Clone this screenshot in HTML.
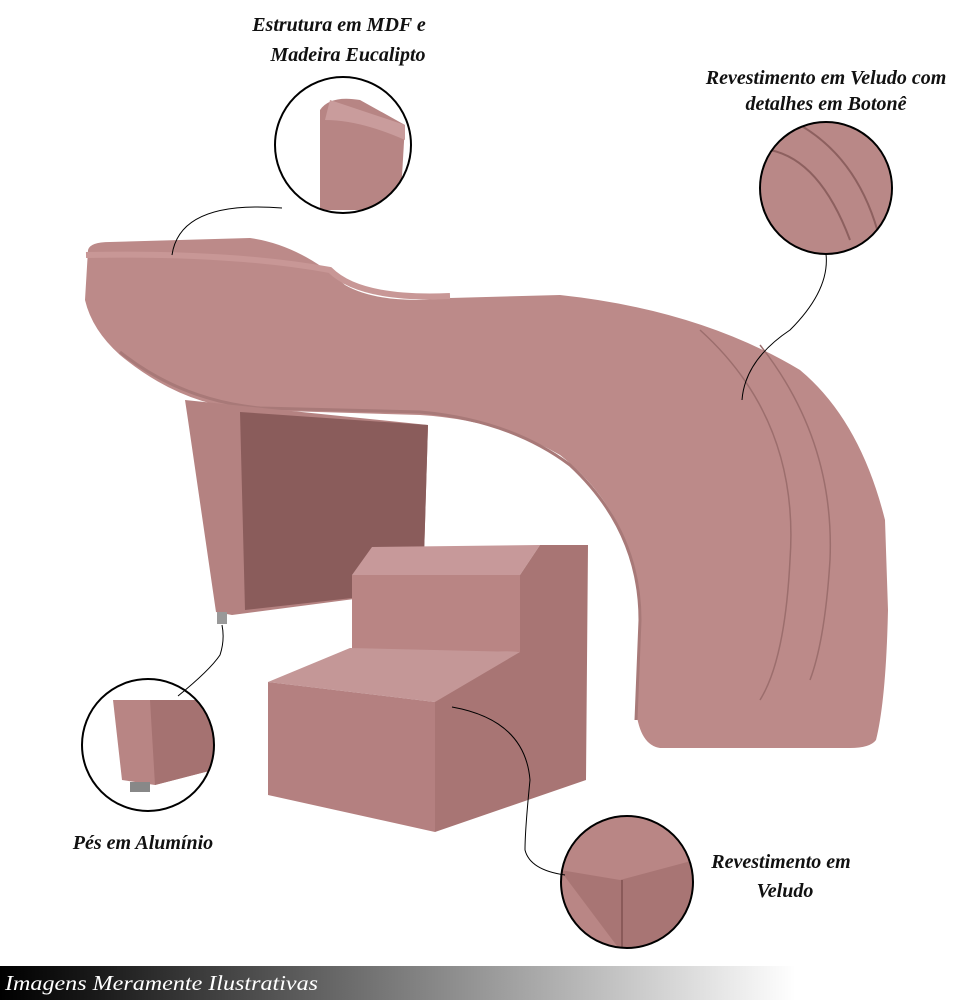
<!DOCTYPE html>
<html><head><meta charset="utf-8"><style>
html,body{margin:0;padding:0;background:#fff;}
body{width:970px;height:1000px;position:relative;overflow:hidden;}
svg{position:absolute;left:0;top:0;}
.t{font-family:"Liberation Serif",serif;font-weight:bold;font-style:italic;font-size:20px;fill:#111;}
</style></head><body>
<svg width="970" height="1000" viewBox="0 0 970 1000">
<defs>
<linearGradient id="bar" x1="0" x2="1" y1="0" y2="0">
<stop offset="0" stop-color="#000"/><stop offset="0.1" stop-color="#1a1a1a"/><stop offset="0.45" stop-color="#888"/><stop offset="0.82" stop-color="#fff"/><stop offset="1" stop-color="#fff"/>
</linearGradient>
<clipPath id="c1"><circle cx="343" cy="145" r="68"/></clipPath>
<clipPath id="c2"><circle cx="826" cy="188" r="66"/></clipPath>
<clipPath id="c3"><circle cx="148" cy="745" r="66"/></clipPath>
<clipPath id="c4"><circle cx="627" cy="882" r="66"/></clipPath>
</defs>
<!-- chaise body -->
<path d="M88,250 Q90,242 110,242 L250,238 Q300,245 345,285 Q380,305 450,298 L560,295 Q700,310 800,370 Q860,420 885,520 L888,610 Q886,700 876,740 Q870,748 850,748 L660,748 Q640,745 636,710 L640,600 Q630,510 560,455 Q500,420 420,415 L250,410 Q180,405 120,355 Q92,330 85,300 Z" fill="#bc8a89"/>
<path d="M120,352 Q180,400 260,408 L420,412 Q510,420 570,465 Q640,530 640,620 L636,720" fill="none" stroke="#a87978" stroke-width="3"/>
<path d="M86,255 Q230,252 330,270 Q360,300 450,296" fill="none" stroke="#c89796" stroke-width="6"/>
<!-- tufting lines -->
<path d="M700,330 Q800,420 790,560 Q785,660 760,700" fill="none" stroke="#9c6e6d" stroke-width="1.5"/>
<path d="M760,345 Q835,440 830,560 Q825,640 810,680" fill="none" stroke="#9c6e6d" stroke-width="1.5"/>
<!-- leg -->
<path d="M185,400 L428,425 L423,590 L232,615 L216,612 L188,420 Z" fill="#b48281"/>
<path d="M240,412 L428,425 L423,590 L245,610 Z" fill="#8a5c5b"/>
<rect x="217" y="612" width="10" height="12" fill="#999"/>
<!-- step -->
<path d="M352,575 L372,547 L540,545 L520,575 Z" fill="#c7999a"/>
<path d="M520,575 L540,545 L588,545 L586,780 L435,832 L435,700 L520,650 Z" fill="#a87574"/>
<path d="M352,575 L520,575 L520,652 L352,650 Z" fill="#b98584"/>
<path d="M268,682 L350,648 L520,652 L435,702 Z" fill="#c49797"/>
<path d="M268,682 L435,702 L435,832 L268,795 Z" fill="#b48080"/>
<!-- circles -->
<g clip-path="url(#c1)"><rect x="270" y="70" width="150" height="150" fill="#fff"/><path d="M320,110 Q330,95 360,100 L405,125 L400,210 L320,210 Z" fill="#b78584"/><path d="M330,100 L405,125 L405,140 Q360,120 325,120Z" fill="#c99c9c"/></g>
<circle cx="343" cy="145" r="68" fill="none" stroke="#000" stroke-width="2"/>
<g clip-path="url(#c2)"><rect x="755" y="118" width="145" height="145" fill="#b98887"/><path d="M770,150 Q820,160 850,240" fill="none" stroke="#8d605f" stroke-width="2"/><path d="M800,125 Q860,160 880,240" fill="none" stroke="#8d605f" stroke-width="2"/></g>
<circle cx="826" cy="188" r="66" fill="none" stroke="#000" stroke-width="2"/>
<g clip-path="url(#c3)"><rect x="80" y="675" width="140" height="140" fill="#fff"/><path d="M113,700 L215,700 L213,770 L155,785 L122,780 Z" fill="#b88584"/><path d="M150,700 L215,700 L213,770 L155,785 Z" fill="#a57271"/><rect x="130" y="782" width="20" height="10" fill="#888"/></g>
<circle cx="148" cy="745" r="66" fill="none" stroke="#000" stroke-width="2"/>
<g clip-path="url(#c4)"><rect x="560" y="815" width="135" height="135" fill="#b98685"/><path d="M560,870 L620,880 L695,860 L695,950 L620,950 Z" fill="#a87574"/><line x1="622" y1="880" x2="622" y2="950" stroke="#8a5a59" stroke-width="2"/></g>
<circle cx="627" cy="882" r="66" fill="none" stroke="#000" stroke-width="2"/>
<!-- connectors -->
<path d="M282,208 Q180,200 172,255" fill="none" stroke="#000" stroke-width="1"/>
<path d="M826,254 Q830,290 790,330 Q745,360 742,400" fill="none" stroke="#000" stroke-width="1"/>
<path d="M178,696 Q210,670 220,655 Q225,640 222,625" fill="none" stroke="#000" stroke-width="1"/>
<path d="M452,707 Q525,720 530,780 Q525,830 525,850 Q530,870 565,875" fill="none" stroke="#000" stroke-width="1"/>
<!-- labels -->
<text class="t" x="339" y="31" text-anchor="middle">Estrutura em MDF e</text>
<text class="t" x="348" y="61" text-anchor="middle">Madeira Eucalipto</text>
<text class="t" x="826" y="84" text-anchor="middle">Revestimento em Veludo com</text>
<text class="t" x="826" y="110" text-anchor="middle">detalhes em Botonê</text>
<text class="t" x="143" y="849" text-anchor="middle">Pés em Alumínio</text>
<text class="t" x="781" y="868" text-anchor="middle">Revestimento em</text>
<text class="t" x="785" y="897" text-anchor="middle">Veludo</text>
<!-- bottom bar -->
<rect x="0" y="966" width="970" height="34" fill="url(#bar)"/>
<text x="5" y="990" fill="#fff" font-family="Liberation Serif,serif" font-style="italic" font-size="21" textLength="313" lengthAdjust="spacingAndGlyphs">Imagens Meramente Ilustrativas</text>
</svg>
</body></html>
